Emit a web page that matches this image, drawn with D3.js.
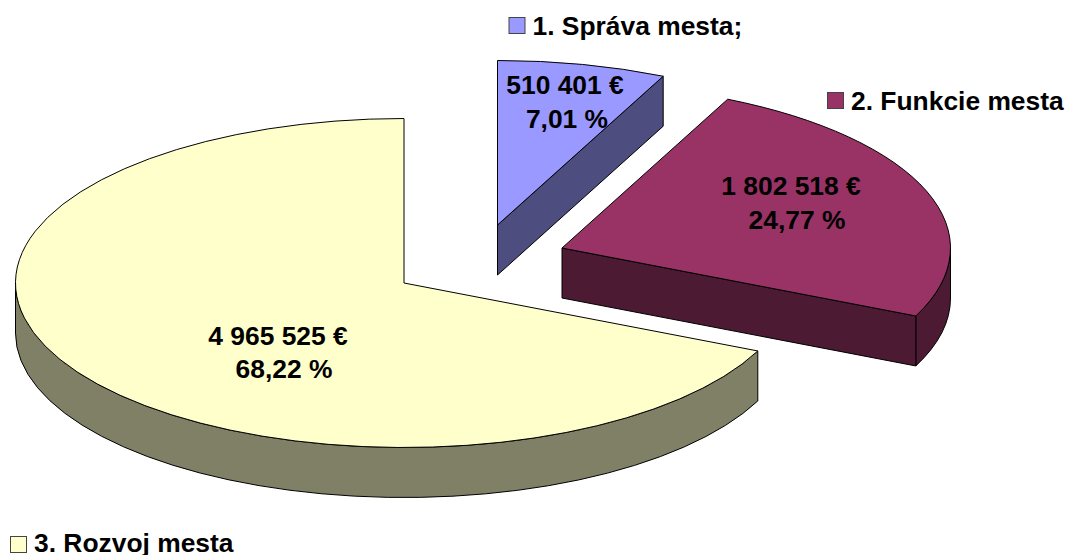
<!DOCTYPE html>
<html lang="en">
<head>
    <meta charset="UTF-8">
    <title>Rozpocet mesta</title>
    <script src="https://d3js.org/d3.v7.min.js"></script>
    <style>
        html, body { margin: 0; padding: 0; background: #fff; overflow: hidden; }
        text { font-family: "Liberation Sans", Arial, sans-serif; font-weight: bold; font-size: 26.4px; fill: #000; }
    </style>
</head>
<body>
<svg width="1067" height="555" viewBox="0 0 1067 555" style="display:block"></svg>
<script>

    // data
    const names   = ["1. Správa mesta;", "2. Funkcie mesta", "3. Rozvoj mesta"];
    const amounts = [510401, 1802518, 4965525];
    const amountLabels  = ["510 401 €", "1 802 518 €", "4 965 525 €"];
    const percentLabels = ["7,01 %", "24,77 %", "68,22 %"];

    const topColors  = ["#9999ff", "#993366", "#ffffcc"];
    const sideColors = ["#4d4d80", "#4d1a33", "#808066"];

    // layout, exploded pie centers and ellipse
    const rx = 388.5, ry = 164.5, depth = 50;
    const centers = [[497.5, 225], [562, 248], [404, 283]];
    const labelPos = [[565, 94], [791, 195], [278, 345]];
    const percentPos = [[567, 128], [797, 229], [284, 378]];
    const legendPos = [[509, 17.5], [827.5, 92.5], [10.5, 536.5]];
    const legendBaseline = [17.5, 17.5, 15];

    const svg = d3.select("svg");
    const arcs = d3.pie().sort(null)(amounts);

    const px = (c, a) => c[0] + rx * Math.sin(a);
    const py = (c, a, dz = 0) => c[1] - ry * Math.cos(a) + dz;

    function topPath(c, a0, a1) {
        const large = a1 - a0 > Math.PI ? 1 : 0;
        return `M${c[0]},${c[1]}L${px(c, a0)},${py(c, a0)}` +
            `A${rx},${ry} 0 ${large} 1 ${px(c, a1)},${py(c, a1)}Z`;
    }

    // outer rim between two angles, only the part facing us
    function rimPath(c, a0, a1) {
        a0 = Math.max(a0, Math.PI / 2);
        a1 = Math.min(a1, Math.PI * 1.5);
        if (a1 <= a0) return null;
        return `M${px(c, a0)},${py(c, a0)}` +
            `A${rx},${ry} 0 0 1 ${px(c, a1)},${py(c, a1)}` +
            `L${px(c, a1)},${py(c, a1, depth)}` +
            `A${rx},${ry} 0 0 0 ${px(c, a0)},${py(c, a0, depth)}Z`;
    }

    function cutPath(c, a) {
        return `M${c[0]},${c[1]}L${px(c, a)},${py(c, a)}` +
            `L${px(c, a)},${py(c, a, depth)}L${c[0]},${c[1] + depth}Z`;
    }

    const slices = svg.selectAll("g.slice")
        .data(arcs)
        .enter()
        .append("g")
        .attr("class", "slice")
        .attr("stroke", "#000")
        .attr("stroke-width", 1)
        .attr("stroke-linejoin", "round");

    slices.each(function (d, i) {
        const g = d3.select(this);
        const c = centers[i];
        const rim = rimPath(c, d.startAngle, d.endAngle);
        if (rim) g.append("path").attr("d", rim).attr("fill", sideColors[i]);
        // cut face at the end of the first two slices faces the viewer
        if (i < 2) {
            g.append("path")
                .attr("d", cutPath(c, d.endAngle))
                .attr("fill", sideColors[i]);
        }
        g.append("path")
            .attr("d", topPath(c, d.startAngle, d.endAngle))
            .attr("fill", topColors[i]);
    });

    // value labels
    svg.selectAll("g.value")
        .data(amountLabels)
        .enter()
        .append("g")
        .attr("class", "value")
        .each(function (d, i) {
            const g = d3.select(this);
            g.append("text").attr("x", labelPos[i][0]).attr("y", labelPos[i][1])
                .attr("text-anchor", "middle").text(d);
            g.append("text").attr("x", percentPos[i][0]).attr("y", percentPos[i][1])
                .attr("text-anchor", "middle").text(percentLabels[i]);
        });

    // legend entries are scattered around the pie
    const legend = svg.selectAll("g.legend")
        .data(names)
        .enter()
        .append("g")
        .attr("class", "legend")
        .attr("transform", (d, i) => `translate(${legendPos[i]})`);

    legend.append("rect")
        .attr("width", 16)
        .attr("height", 16)
        .attr("fill", (d, i) => topColors[i])
        .attr("stroke", "#444")
        .attr("stroke-width", 1);

    legend.append("text")
        .attr("x", 23.5)
        .attr("y", (d, i) => legendBaseline[i])
        .text(d => d);

</script>
</body>
</html>
